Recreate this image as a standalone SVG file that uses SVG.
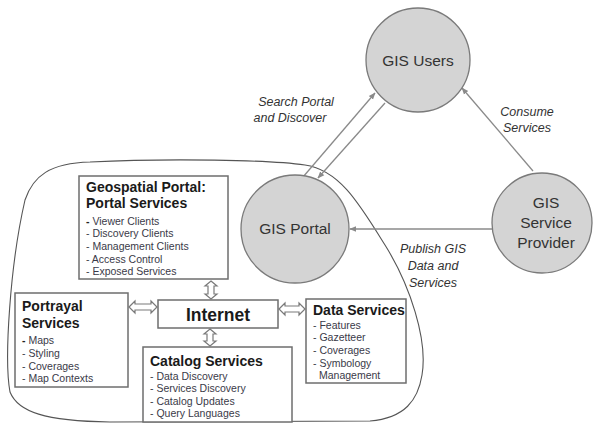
<svg xmlns="http://www.w3.org/2000/svg" width="595" height="424" viewBox="0 0 595 424">
<defs>
<style>
.circ{fill:#d4d4d4;stroke:#7a7a7a;stroke-width:1.3}
.ctext{font-family:"Liberation Sans",Arial,sans-serif;font-size:15.5px;fill:#333;text-anchor:middle}
.lbl{font-family:"Liberation Sans",Arial,sans-serif;font-size:12.5px;font-style:italic;fill:#333;text-anchor:middle}
.box{fill:#fff;stroke:#6e6e6e;stroke-width:1.5}
.title{font-family:"Liberation Sans",Arial,sans-serif;font-size:14px;font-weight:bold;fill:#1a1a1a}
.item{font-family:"Liberation Sans",Arial,sans-serif;font-size:10.5px;fill:#3a3a48}
.conn{stroke:#8a8a8a;stroke-width:1.3;fill:none}
.harrow{fill:#fff;stroke:#7a7a7a;stroke-width:1.2}
.blob{fill:none;stroke:#555;stroke-width:1.1}
</style>
<marker id="ah" viewBox="0 0 10 10" refX="9" refY="5" markerWidth="7" markerHeight="7" orient="auto" markerUnits="userSpaceOnUse">
<path d="M0,1 L10,5 L0,9 Z" fill="#8a8a8a"/>
</marker>
</defs>

<path class="blob" d="M25,200 C33,176 50,163 90,162 C170,158 270,160 305,165 C340,170 360,205 385,245 C410,285 428,340 422,375 C418,400 405,418 370,421 L110,422 C45,421 18,412 10,392 C4,360 10,265 25,200 Z"/>

<g id="connectors">
<line class="conn" x1="303" y1="177" x2="375" y2="93" marker-end="url(#ah)"/>
<line class="conn" x1="385" y1="103" x2="318" y2="178" marker-end="url(#ah)"/>
<line class="conn" x1="533" y1="171" x2="462" y2="88" marker-end="url(#ah)"/>
<line class="conn" x1="494" y1="229" x2="350" y2="229" marker-end="url(#ah)"/>
<polygon class="harrow" points="211,281 217,286 214,286 214,294 217,294 211,299 205,294 208,294 208,286 205,286"/>
<polygon class="harrow" points="210,329 216,334 213,334 213,341 216,341 210,346 204,341 207,341 207,334 204,334"/>
<polygon class="harrow" points="129,307 135,301 135,304 151,304 151,301 157,307 151,313 151,310 135,310 135,313"/>
<polygon class="harrow" points="279,309 285,303 285,306 299,306 299,303 305,309 299,315 299,312 285,312 285,315"/>
</g>

<g id="labels">
<text class="lbl" x="296" y="106">Search Portal</text>
<text class="lbl" x="290" y="122">and Discover</text>
<text class="lbl" x="527" y="116">Consume</text>
<text class="lbl" x="527" y="132">Services</text>
<text class="lbl" x="433" y="253">Publish GIS</text>
<text class="lbl" x="433" y="270">Data and</text>
<text class="lbl" x="433" y="287">Services</text>
</g>

<g id="gis-users">
<circle class="circ" cx="418" cy="60" r="52"/>
<text class="ctext" x="418" y="66">GIS Users</text>
</g>

<g id="gis-portal">
<circle class="circ" cx="295" cy="229" r="54"/>
<text class="ctext" x="295" y="234">GIS Portal</text>
</g>

<g id="gis-service-provider">
<circle class="circ" cx="542" cy="223" r="50"/>
<text class="ctext" x="546" y="208">GIS</text>
<text class="ctext" x="546" y="228">Service</text>
<text class="ctext" x="546" y="248">Provider</text>
</g>

<g id="geospatial-portal">
<rect class="box" x="79" y="176" width="149" height="103"/>
<text class="title" x="86" y="192">Geospatial Portal:</text>
<text class="title" x="86" y="208">Portal Services</text>
<text class="item" x="86" y="225"><tspan font-weight="bold" fill="#222">-</tspan> Viewer Clients</text>
<text class="item" x="86" y="237">- Discovery Clients</text>
<text class="item" x="86" y="250">- Management Clients</text>
<text class="item" x="86" y="263">- Access Control</text>
<text class="item" x="86" y="275">- Exposed Services</text>
</g>

<g id="portrayal-services">
<rect class="box" x="15" y="293" width="113" height="94"/>
<text class="title" x="22" y="311">Portrayal</text>
<text class="title" x="22" y="328">Services</text>
<text class="item" x="22" y="344"><tspan font-weight="bold" fill="#222">-</tspan> Maps</text>
<text class="item" x="22" y="357">- Styling</text>
<text class="item" x="22" y="370">- Coverages</text>
<text class="item" x="22" y="382">- Map Contexts</text>
</g>

<g id="internet">
<rect class="box" x="158" y="300" width="120" height="28"/>
<text x="218" y="321" font-family="'Liberation Sans',Arial,sans-serif" font-size="17.5" font-weight="bold" fill="#1a1a1a" text-anchor="middle">Internet</text>
</g>

<g id="catalog-services">
<rect class="box" x="143" y="347" width="149" height="75"/>
<text class="title" x="150" y="366">Catalog Services</text>
<text class="item" x="150" y="380">- Data Discovery</text>
<text class="item" x="150" y="392">- Services Discovery</text>
<text class="item" x="150" y="405">- Catalog Updates</text>
<text class="item" x="150" y="417">- Query Languages</text>
</g>

<g id="data-services">
<rect class="box" x="306" y="299" width="100" height="84"/>
<text class="title" x="313" y="315">Data Services</text>
<text class="item" x="313" y="329">- Features</text>
<text class="item" x="313" y="341">- Gazetteer</text>
<text class="item" x="313" y="354">- Coverages</text>
<text class="item" x="313" y="367">- Symbology</text>
<text class="item" x="319" y="379">Management</text>
</g>
</svg>
